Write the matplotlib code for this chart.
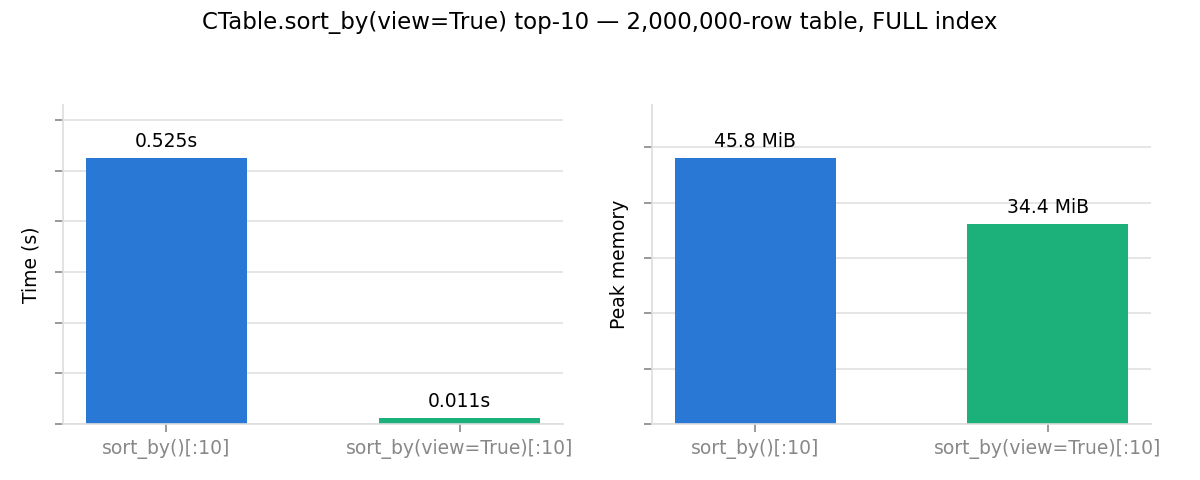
import numpy as np
import matplotlib
matplotlib.use('Agg')
import matplotlib.pyplot as plt

labels = ['sort_by()[:10]', 'sort_by(view=True)[:10]']
times = [0.525, 0.011]
mem_mib = [45.8, 34.4]
colors = ['#2a78d6', '#1cb17a']

mem_bytes = [m * 1024 * 1024 for m in mem_mib]

fig = plt.figure(figsize=(12, 4.8), dpi=100)
fig.suptitle('CTable.sort_by(view=True) top-10 \u2014 2,000,000-row table, FULL index',
             fontsize=16.5, y=0.978)

ax1 = fig.add_axes([0.0525, 0.1167, 0.4167, 0.6646])
ax2 = fig.add_axes([0.5433, 0.1167, 0.4158, 0.6646])

x = np.arange(len(labels))

def style(ax):
    for s in ['top', 'right']:
        ax.spines[s].set_visible(False)
    for s in ['left', 'bottom']:
        ax.spines[s].set_color('#dddddd')
        ax.spines[s].set_linewidth(1.2)
    ax.set_axisbelow(True)
    ax.yaxis.grid(True, color='#e0e0e0', linewidth=1.2)
    ax.tick_params(axis='both', colors='#888888', length=6, width=1.2, labelsize=13.5)
    ax.tick_params(axis='x', labelcolor='#888888', pad=5)
    ax.set_yticklabels([])
    ax.set_xticks(x)
    ax.set_xticklabels(labels)

# time
bars = ax1.bar(x, times, width=0.55, color=colors)
ax1.set_ylim(0, max(times) * 1.2)
ax1.set_yticks(np.arange(0, 0.61, 0.1))
style(ax1)
ax1.set_ylabel('Time (s)', fontsize=13.5, labelpad=7)
for b, v in zip(bars, times):
    ax1.annotate('%.3fs' % v, (b.get_x() + b.get_width() / 2, v),
                 xytext=(0, 5), textcoords='offset points',
                 ha='center', va='bottom', fontsize=13.5)

# memory
bars = ax2.bar(x, mem_bytes, width=0.55, color=colors)
ax2.set_ylim(0, max(mem_bytes) * 1.2)
ax2.set_yticks(np.arange(0, 5.01e7, 1e7))
style(ax2)
ax2.set_ylabel('Peak memory', fontsize=13.5, labelpad=7)
for b, v, m in zip(bars, mem_bytes, mem_mib):
    ax2.annotate('%.1f MiB' % m, (b.get_x() + b.get_width() / 2, v),
                 xytext=(0, 5), textcoords='offset points',
                 ha='center', va='bottom', fontsize=13.5)

plt.savefig('out.png', dpi=100)
